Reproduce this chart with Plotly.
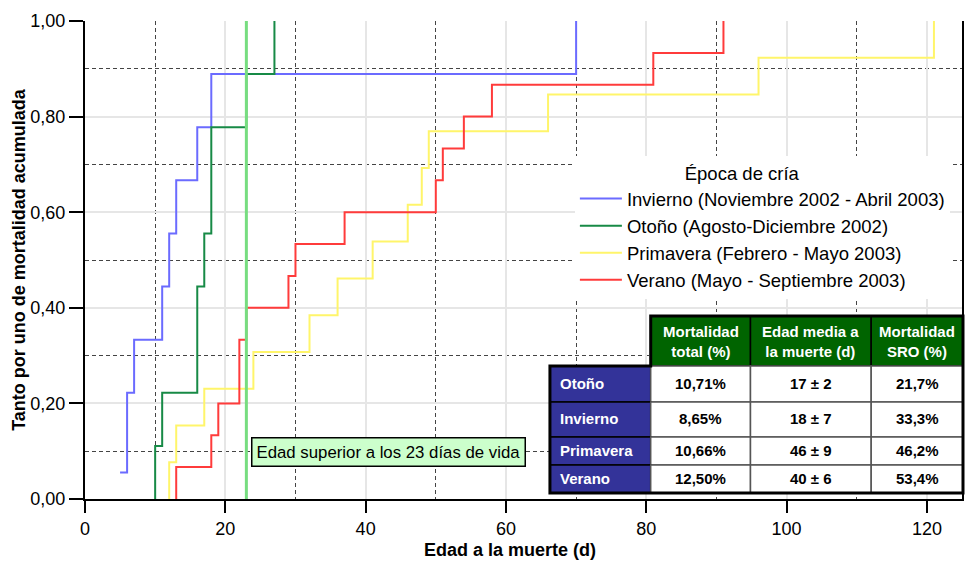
import plotly.graph_objects as go

# ---------------- data ----------------
series_names = [
    "Invierno (Noviembre 2002 - Abril 2003)",
    "Otoño (Agosto-Diciembre 2002)",
    "Primavera (Febrero - Mayo 2003)",
    "Verano (Mayo - Septiembre 2003)",
]
inv_x = [5, 6, 7, 11, 12, 13, 16, 18, 70]
inv_y = [0.0556, 0.2222, 0.3333, 0.4444, 0.5556, 0.6667, 0.7778, 0.8889, 1.0]

oto_x = [10, 10, 11, 16, 17, 18, 23, 27]
oto_y = [0.0, 0.1111, 0.2222, 0.4444, 0.5556, 0.7778, 0.8889, 1.0]

pri_x = [12, 12, 13, 17, 24, 32, 36, 41, 46, 48, 49, 66, 96, 121]
pri_y = [0.0, 0.0769, 0.1538, 0.2308, 0.3077, 0.3846, 0.4615, 0.5385,
         0.6154, 0.6923, 0.7692, 0.8462, 0.9231, 1.0]

ver_x = [13, 13, 18, 19, 22, 23, 29, 30, 37, 50, 51, 54, 58, 81, 91]
ver_y = [0.0, 0.0667, 0.1333, 0.2, 0.3333, 0.4, 0.4667, 0.5333, 0.6,
         0.6667, 0.7333, 0.8, 0.8667, 0.9333, 1.0]

threshold_day = 23
threshold_label = "Edad superior a los 23 días de vida"

x_ticks = [0, 20, 40, 60, 80, 100, 120]
y_ticks = [0.0, 0.2, 0.4, 0.6, 0.8, 1.0]

table_header = ["Mortalidad<br>total (%)", "Edad media a<br>la muerte (d)",
                "Mortalidad<br>SRO (%)"]
table_rows = ["Otoño", "Invierno", "Primavera", "Verano"]
mort_total = ["10,71%", "8,65%", "10,66%", "12,50%"]
edad_media = ["17 ± 2", "18 ± 7", "46 ± 9", "40 ± 6"]
mort_sro = ["21,7%", "33,3%", "46,2%", "53,4%"]

# ---------------- style / layout ----------------
FONT = "Liberation Sans, Arial, sans-serif"
colors = ["#6b6bff", "#178a46", "#fff56a", "#ff3b3b"]
W, H = 968, 565
ML, MR, MT, MB = 85, 4, 21, 66
PW, PH = W - ML - MR, H - MT - MB

# table geometry in pixels (layout only)
COL_EDGES = [551, 652, 752, 873, 965]
ROW_EDGES = [316, 366, 402, 437, 465, 493]


def px_x(xp):
    return (xp - ML) / PW


def px_y(yp):
    return (H - MB - yp) / PH


fig = go.Figure()

for name, xs, ys, c in zip(series_names, [inv_x, oto_x, pri_x, ver_x],
                           [inv_y, oto_y, pri_y, ver_y], colors):
    fig.add_trace(go.Scatter(x=xs, y=ys, mode="lines", name=name,
                             line=dict(color=c, width=2, shape="hv")))

fig.add_trace(go.Scatter(x=[threshold_day, threshold_day], y=[0, 1],
                         mode="lines", showlegend=False,
                         line=dict(color="#77dd80", width=3)))

# ---------------- table (shapes + annotations) ----------------
columns = [table_rows, mort_total, edad_media, mort_sro]
# header cells
for j, htxt in enumerate(table_header, start=1):
    x0, x1 = COL_EDGES[j], COL_EDGES[j + 1]
    y0, y1 = ROW_EDGES[0], ROW_EDGES[1]
    fig.add_shape(type="rect", xref="paper", yref="paper",
                  x0=px_x(x0), x1=px_x(x1), y0=px_y(y1), y1=px_y(y0),
                  fillcolor="#006400", line=dict(color="black", width=1.5),
                  layer="above")
    fig.add_annotation(xref="paper", yref="paper", x=px_x((x0 + x1) / 2),
                       y=px_y((y0 + y1) / 2), xanchor="center", yanchor="middle",
                       text="<b>%s</b>" % htxt, showarrow=False, align="center",
                       font=dict(family=FONT, size=15, color="white"))
# body cells
for i in range(len(table_rows)):
    y0, y1 = ROW_EDGES[i + 1], ROW_EDGES[i + 2]
    for j, col in enumerate(columns):
        x0, x1 = COL_EDGES[j], COL_EDGES[j + 1]
        first = j == 0
        fig.add_shape(type="rect", xref="paper", yref="paper",
                      x0=px_x(x0), x1=px_x(x1), y0=px_y(y1), y1=px_y(y0),
                      fillcolor="#333399" if first else "white",
                      line=dict(color="black" if first else "#555555", width=1.5),
                      layer="above")
        if first:
            fig.add_annotation(xref="paper", yref="paper", x=px_x(x0 + 8),
                               y=px_y((y0 + y1) / 2 - 1), xanchor="left",
                               yanchor="middle", align="left",
                               text="<b>%s</b>" % col[i], showarrow=False,
                               font=dict(family=FONT, size=15, color="white"))
        else:
            fig.add_annotation(xref="paper", yref="paper", x=px_x((x0 + x1) / 2),
                               y=px_y((y0 + y1) / 2 - 1), xanchor="center",
                               yanchor="middle",
                               text="<b>%s</b>" % col[i], showarrow=False,
                               font=dict(family=FONT, size=15, color="black"))
# thick outer border
pts = [(COL_EDGES[1], ROW_EDGES[0]), (COL_EDGES[-1], ROW_EDGES[0]),
       (COL_EDGES[-1], ROW_EDGES[-1]), (COL_EDGES[0], ROW_EDGES[-1]),
       (COL_EDGES[0], ROW_EDGES[1]), (COL_EDGES[1], ROW_EDGES[1])]
path = "M " + " L ".join("%f,%f" % (px_x(a), px_y(b)) for a, b in pts) + " Z"
fig.add_shape(type="path", path=path, xref="paper", yref="paper",
              line=dict(color="black", width=3), layer="above")

# threshold label
fig.add_annotation(x=43.3, y=0.099, xref="x", yref="y", text=threshold_label,
                   xanchor="center", yanchor="middle",
                   showarrow=False, bgcolor="#ccffcc", bordercolor="black",
                   borderwidth=1.5, borderpad=4,
                   font=dict(family=FONT, size=16.8, color="black"))

# x axis title (slightly left of centre, as in the original)
fig.add_annotation(xref="paper", yref="paper", x=px_x(511), y=0,
                   xanchor="center", yanchor="top",
                   yshift=-39, showarrow=False, text="<b>Edad a la muerte (d)</b>",
                   font=dict(family=FONT, size=18, color="black"))

fig.update_layout(
    width=W, height=H,
    margin=dict(l=ML, r=MR, t=MT, b=MB),
    paper_bgcolor="white", plot_bgcolor="white",
    separators=",.",
    font=dict(family=FONT, size=18, color="black"),
    legend=dict(x=px_x(576), y=px_y(156), xanchor="left", yanchor="top",
                bgcolor="white", borderwidth=0, itemwidth=42,
                font=dict(family=FONT, size=18.5, color="black"),
                title=dict(text="Época de cría" + "&nbsp;" * 8, side="top center",
                           font=dict(family=FONT, size=18.5, color="black"))),
    xaxis=dict(range=[0, 125], tickvals=x_ticks, ticks="outside", ticklen=12,
               tickwidth=1.5, tickcolor="black", showline=True, linecolor="black",
               linewidth=2, showgrid=True, gridcolor="#e6e6e6", gridwidth=2,
               zeroline=False, mirror=False,
               tickfont=dict(family=FONT, size=18),
               minor=dict(dtick=10, tick0=0, showgrid=True, gridcolor="#444444",
                          griddash="4px,3px", gridwidth=1.2, ticks="")),
    yaxis=dict(range=[0, 1], tickvals=y_ticks, tickformat=".2f", ticks="outside",
               ticklen=14, tickwidth=1.5, tickcolor="black", showline=True,
               linecolor="black", linewidth=2, showgrid=True, gridcolor="#e6e6e6",
               gridwidth=2, zeroline=False, mirror=True,
               tickfont=dict(family=FONT, size=18),
               minor=dict(dtick=0.1, tick0=0, showgrid=True, gridcolor="#444444",
                          griddash="4px,3px", gridwidth=1.2, ticks=""),
               title=dict(text="<b>Tanto por uno de mortalidad acumulada</b>", standoff=0,
                          font=dict(family=FONT, size=18))),
)

fig.write_html("out.html")
